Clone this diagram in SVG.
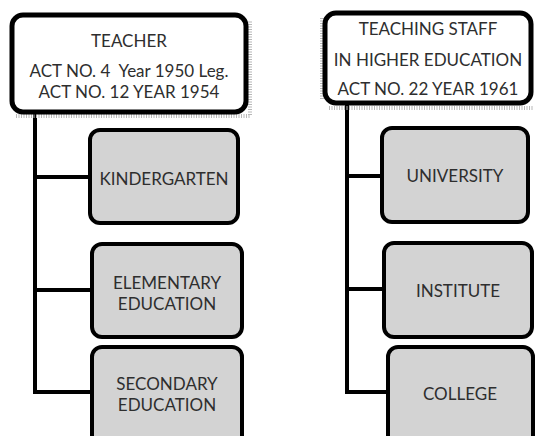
<svg xmlns="http://www.w3.org/2000/svg" width="535" height="436" viewBox="0 0 535 436">
<style>
.top{fill:#ffffff;stroke:#000;stroke-width:5}
.child{fill:#d3d3d3;stroke:#000;stroke-width:4}
.shadow{fill:none;stroke:#b8b8b8;stroke-width:4;stroke-dasharray:1 1.5}
.conn{fill:none;stroke:#000;stroke-width:4}
text{font-family:Lato,"Open Sans","Liberation Sans",sans-serif;fill:#2e2e2e;text-anchor:middle;dominant-baseline:central;white-space:pre}
.t{font-size:17px}
.c{font-size:17px}
</style>
<rect width="535" height="436" fill="#fff"/>
<g id="connectors">
<path class="conn" d="M35,113 V392 H92 M35,177 H90 M35,290 H92"/>
<path class="conn" d="M347,105 V392 H388 M347,176 H382 M347,289 H384"/>
</g>
<g id="teacher">
<path class="shadow" d="M16,116 H250 V20"/>
<rect class="top" x="12" y="15" width="234" height="97" rx="11"/>
<text class="t" x="129" y="40">TEACHER</text>
<text class="t" x="129" y="70" xml:space="preserve">ACT NO. 4  Year 1950 Leg.</text>
<text class="t" x="129" y="91">ACT NO. 12 YEAR 1954</text>
</g>
<g id="teaching-staff">
<path class="shadow" d="M329,108 H533 M322,18 V100"/>
<rect class="top" x="325" y="13" width="206" height="90" rx="11"/>
<text class="t" x="428" y="28">TEACHING STAFF</text>
<text class="t" x="428" y="59">IN HIGHER EDUCATION</text>
<text class="t" x="428" y="88">ACT NO. 22 YEAR 1961</text>
</g>
<g id="kindergarten">
<rect class="child" x="90" y="130" width="148" height="93" rx="10"/>
<text class="c" x="164" y="178">KINDERGARTEN</text>
</g>
<g id="elementary">
<rect class="child" x="92" y="244" width="150" height="93" rx="10"/>
<text class="c" x="167" y="282">ELEMENTARY</text>
<text class="c" x="167" y="303">EDUCATION</text>
</g>
<g id="secondary">
<rect class="child" x="92" y="347" width="150" height="100" rx="10"/>
<text class="c" x="167" y="383">SECONDARY</text>
<text class="c" x="167" y="404">EDUCATION</text>
</g>
<g id="university">
<rect class="child" x="382" y="128" width="146" height="94" rx="10"/>
<text class="c" x="455" y="175">UNIVERSITY</text>
</g>
<g id="institute">
<rect class="child" x="384" y="243" width="148" height="94" rx="10"/>
<text class="c" x="458" y="290">INSTITUTE</text>
</g>
<g id="college">
<rect class="child" x="388" y="347" width="145" height="100" rx="10"/>
<text class="c" x="460" y="393">COLLEGE</text>
</g>
</svg>
